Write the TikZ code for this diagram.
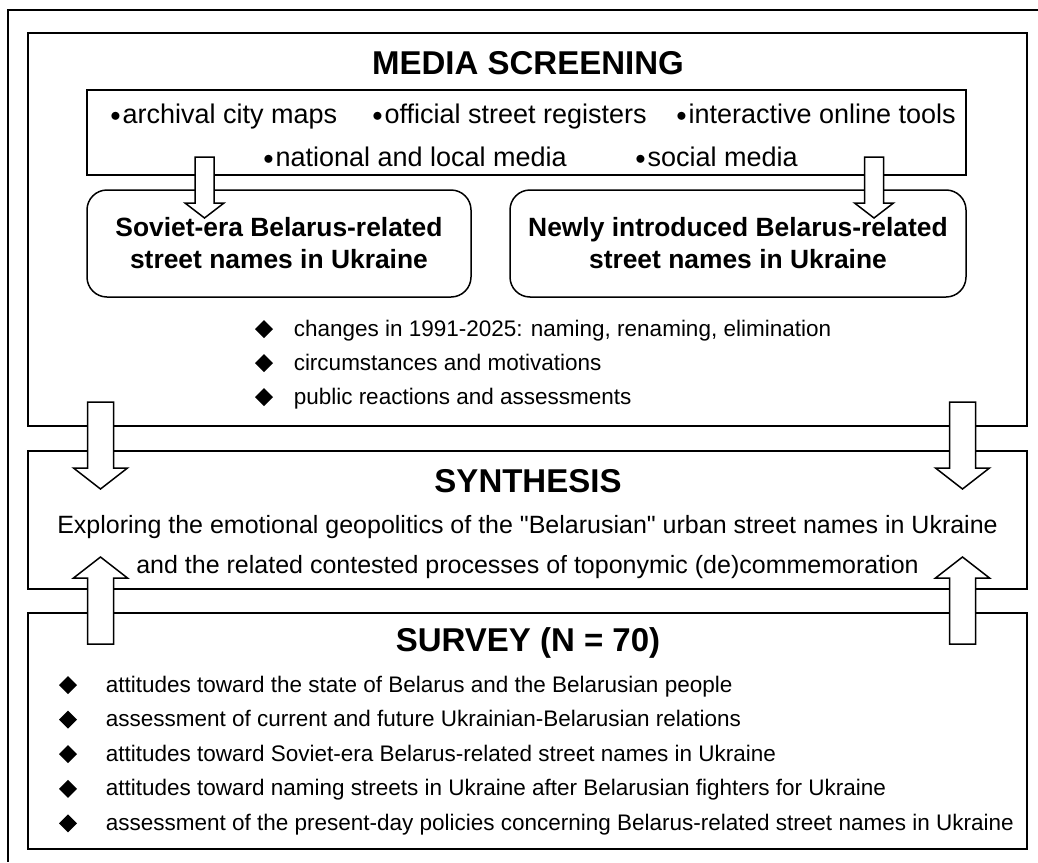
\documentclass[tikz,border=0pt]{standalone}
\usepackage{fontspec}
\setmainfont{Liberation Sans}[Ligatures=TeXOff]

\newcommand\dotitem{\raisebox{2pt}{\fontsize{21}{21}\selectfont$\bullet$}\hspace{2pt}}

\begin{document}
\begin{tikzpicture}[x=1pt, y=-1pt, line width=1.5pt,
    panel/.style={draw, inner sep=0pt},
    title/.style={font=\fontsize{33}{36}\selectfont\bfseries, anchor=base, inner sep=0pt},
    srcitem/.style={font=\fontsize{27}{30}\selectfont, anchor=base west, inner sep=0pt},
    namebox/.style={draw, rounded corners=20pt, inner sep=0pt, align=center,
      font=\fontsize{26.4}{32}\selectfont\bfseries},
    listitem/.style={font=\fontsize{22.5}{24}\selectfont, anchor=base west, inner sep=0pt},
    synline/.style={font=\fontsize{25}{28}\selectfont, anchor=base, inner sep=0pt},
    blockarrow/.style={draw, fill=white, line join=miter}]
  \useasboundingbox (0,0) rectangle (1038,862);

  % outer frame (only top and left edge inside the page)
  \draw (1038,10) -- (8,10) -- (8,862);

  % the three panels
  \node[panel, minimum width=999pt, minimum height=393pt] (media) at (527.5,229.5) {};
  \node[panel, minimum width=999pt, minimum height=138pt] (synth) at (527.5,520) {};
  \node[panel, minimum width=999pt, minimum height=236pt] (survey) at (527.5,731) {};

  % media screening
  \node[title] (mediatitle) at (528,74) {MEDIA SCREENING};
  \node[panel, minimum width=879pt, minimum height=85pt] (sources) at (526.5,132.5) {};
  \node[srcitem] (maps) at (109.5,123) {\dotitem archival city maps};
  \node[srcitem] (registers) at (371.5,123) {\dotitem official street registers};
  \node[srcitem] (tools) at (675.5,123) {\dotitem interactive online tools};
  \node[srcitem] (natmedia) at (262.5,166) {\dotitem national and local media};
  \node[srcitem] (socmedia) at (634.5,166) {\dotitem social media};

  \node[namebox, minimum width=384pt, minimum height=107pt] (soviet) at (279,243.5)
    {Soviet-era Belarus-related\\street names in Ukraine};
  \node[namebox, minimum width=456pt, minimum height=107pt] (newly) at (738,243.5)
    {Newly introduced Belarus-related\\street names in Ukraine};

  \foreach \y/\txt [count=\i] in {336/{changes in 1991-2025: naming, renaming, elimination},
      370/{circumstances and motivations}, 404/{public reactions and assessments}} {
    \fill (264,\y-7) +(-9,0) -- +(0,-9) -- +(9,0) -- +(0,9) -- cycle;
    \node[listitem] (media\i) at (293,\y) {\txt};
  }

  % arrows from the sources into the two boxes
  \foreach \cx in {204.5,874}
    \draw[blockarrow] (\cx-9.5,157) -- (\cx+9.5,157) -- (\cx+9.5,203) -- (\cx+19.5,203)
      -- (\cx,218) -- (\cx-19.5,203) -- (\cx-9.5,203) -- cycle;

  % synthesis
  \node[title] (synthtitle) at (528,492) {SYNTHESIS};
  \node[synline] (syn1) at (527.5,533)
    {Exploring the emotional geopolitics of the "Belarusian" urban street names in Ukraine};
  \node[synline] (syn2) at (527.5,573)
    {and the related contested processes of toponymic (de)commemoration};

  % survey
  \node[title] (surveytitle) at (528,651) {SURVEY (N = 70)};
  \foreach \txt [count=\i] in {attitudes toward the state of Belarus and the Belarusian people,
      assessment of current and future Ukrainian-Belarusian relations,
      attitudes toward Soviet-era Belarus-related street names in Ukraine,
      attitudes toward naming streets in Ukraine after Belarusian fighters for Ukraine,
      assessment of the present-day policies concerning Belarus-related street names in Ukraine} {
    \pgfmathsetmacro\y{692+34.6*(\i-1)}
    \fill (68,\y-7) +(-9,0) -- +(0,-9) -- +(9,0) -- +(0,9) -- cycle;
    \node[listitem] (survey\i) at (105,\y) {\txt};
  }

  % media -> synthesis and survey -> synthesis
  \foreach \cx in {100.5,962.5} {
    \draw[blockarrow] (\cx-13,402) -- (\cx+13,402) -- (\cx+13,468) -- (\cx+27,468)
      -- (\cx,489) -- (\cx-27,468) -- (\cx-13,468) -- cycle;
    \draw[blockarrow] (\cx-13,644) -- (\cx+13,644) -- (\cx+13,578) -- (\cx+27,578)
      -- (\cx,557) -- (\cx-27,578) -- (\cx-13,578) -- cycle;
  }
\end{tikzpicture}
\end{document}
